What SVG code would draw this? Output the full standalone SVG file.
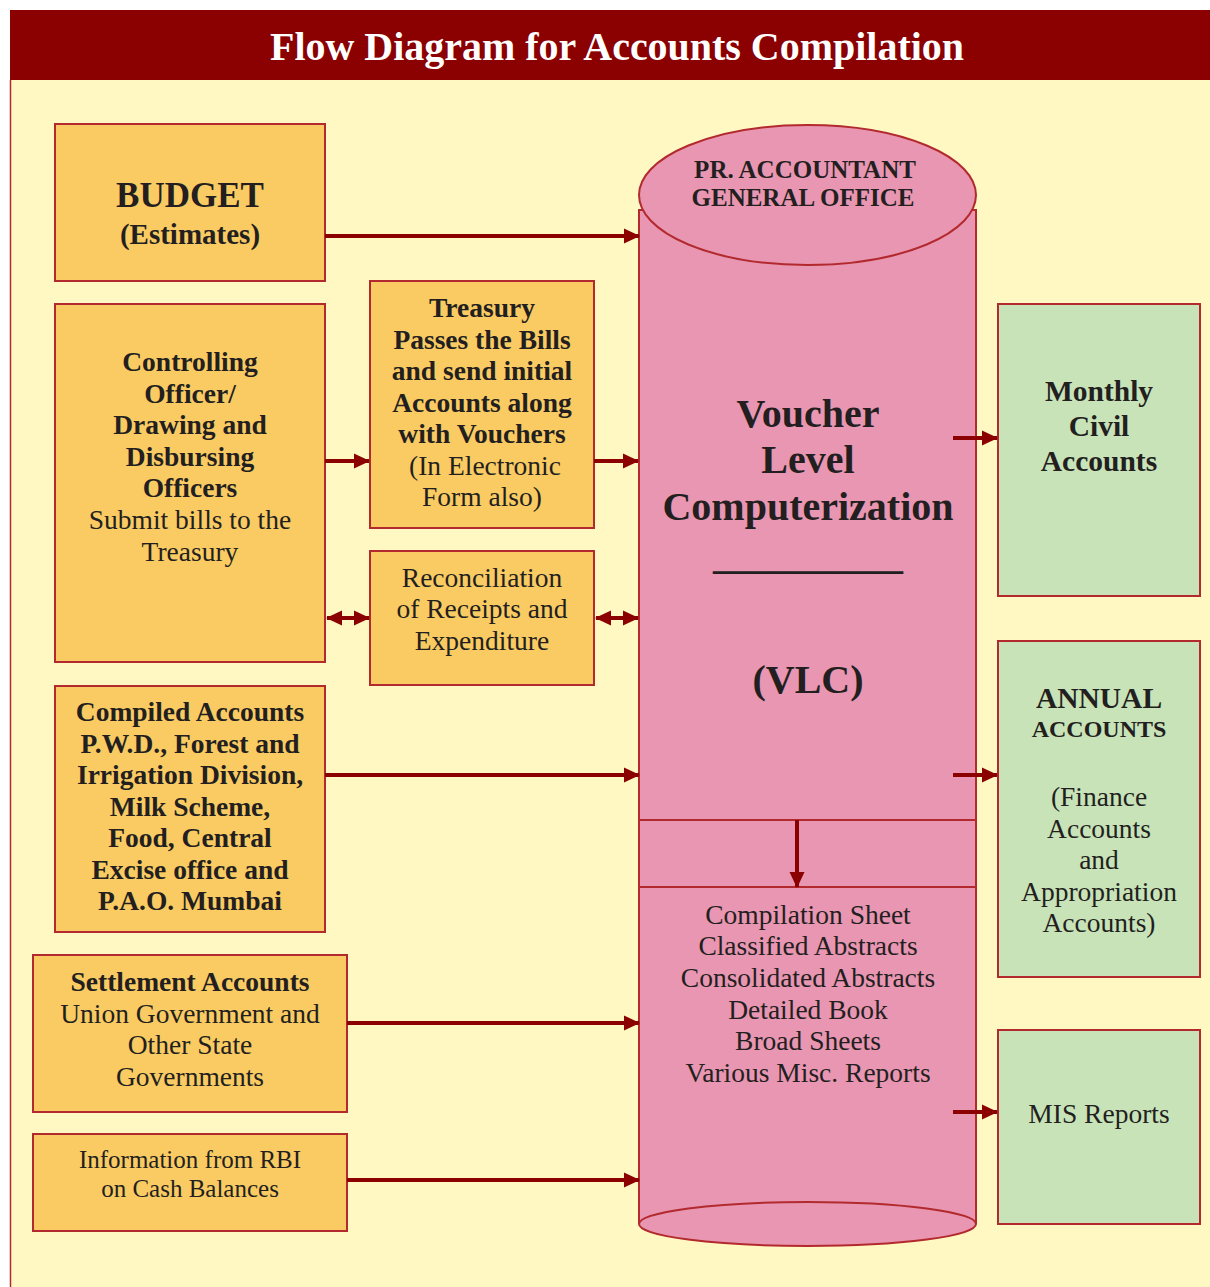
<svg xmlns="http://www.w3.org/2000/svg" width="1210" height="1287" viewBox="0 0 1210 1287">
<defs>
<marker id="ah" markerUnits="userSpaceOnUse" markerWidth="16" markerHeight="16" viewBox="0 0 16 16" refX="15" refY="8" orient="auto">
<path d="M0,0.5 L16,8 L0,15.5 Z" fill="#8B0000"/>
</marker>
<marker id="as" markerUnits="userSpaceOnUse" markerWidth="16" markerHeight="16" viewBox="0 0 16 16" refX="1" refY="8" orient="auto">
<path d="M16,0.5 L0,8 L16,15.5 Z" fill="#8B0000"/>
</marker>
</defs>
<style>
.box{fill:#FACB62;stroke:#B22A2E;stroke-width:2}
.gbox{fill:#C8E3B8;stroke:#B22A2E;stroke-width:2}
.cyl{fill:#E996B2;stroke:#B22A2E;stroke-width:2}
.t{font-family:"Liberation Serif","Times New Roman",serif;fill:#231F20;text-anchor:middle}
.b{font-weight:bold}
.con{stroke:#8B0000;stroke-width:4;fill:none}
</style>
<rect x="10" y="80" width="1200" height="1207" fill="#FFF8C3"/>
<line x1="10.5" y1="80" x2="10.5" y2="1287" stroke="#B22A2E" stroke-width="1.5"/>
<rect x="10" y="10" width="1200" height="70" fill="#8B0000"/>
<text x="617" y="60" font-family="Liberation Serif,serif" font-weight="bold" font-size="40" fill="#FFFFFF" text-anchor="middle" textLength="694" lengthAdjust="spacingAndGlyphs">Flow Diagram for Accounts Compilation</text>

<g id="cylinder" font-size="27.5">
<path class="cyl" d="M639,210 L639,1224 A168.5,22 0 0 0 976,1224 L976,210 Z"/>
<ellipse class="cyl" cx="807.5" cy="195" rx="168.5" ry="70"/>
<line x1="639" y1="820" x2="976" y2="820" stroke="#B22A2E" stroke-width="2"/>
<line x1="639" y1="887" x2="976" y2="887" stroke="#B22A2E" stroke-width="2"/>
<path d="M639,1224 A168.5,22 0 0 1 976,1224" fill="none" stroke="#B22A2E" stroke-width="2"/>
<text class="t b" x="805" y="178" font-size="25">PR. ACCOUNTANT</text>
<text class="t b" x="803" y="206" font-size="25">GENERAL OFFICE</text>
<text class="t b" x="808" y="427" font-size="40">Voucher</text>
<text class="t b" x="808" y="473" font-size="40">Level</text>
<text class="t b" x="808" y="520" font-size="40">Computerization</text>
<text class="t b" x="808" y="569" font-size="38">__________</text>
<text class="t b" x="808" y="693" font-size="40">(VLC)</text>
<text class="t" x="808" y="924">Compilation Sheet</text>
<text class="t" x="808" y="955">Classified Abstracts</text>
<text class="t" x="808" y="987">Consolidated Abstracts</text>
<text class="t" x="808" y="1019">Detailed Book</text>
<text class="t" x="808" y="1050">Broad Sheets</text>
<text class="t" x="808" y="1082">Various Misc. Reports</text>
</g>

<g id="budget">
<rect class="box" x="55" y="124" width="270" height="157"/>
<text class="t b" x="190" y="207" font-size="35">BUDGET</text>
<text class="t b" x="190" y="244" font-size="29">(Estimates)</text>
</g>

<g id="controlling" font-size="27.5">
<rect class="box" x="55" y="304" width="270" height="358"/>
<text class="t b" x="190" y="371">Controlling</text>
<text class="t b" x="190" y="403">Officer/</text>
<text class="t b" x="190" y="434">Drawing and</text>
<text class="t b" x="190" y="466">Disbursing</text>
<text class="t b" x="190" y="497">Officers</text>
<text class="t" x="190" y="529">Submit bills to the</text>
<text class="t" x="190" y="561">Treasury</text>
</g>

<g id="treasury" font-size="27.5">
<rect class="box" x="370" y="281" width="224" height="247"/>
<text class="t b" x="482" y="317">Treasury</text>
<text class="t b" x="482" y="349">Passes the Bills</text>
<text class="t b" x="482" y="380">and send initial</text>
<text class="t b" x="482" y="412">Accounts along</text>
<text class="t b" x="482" y="443">with Vouchers</text>
<text class="t" x="485" y="475">(In Electronic</text>
<text class="t" x="482" y="506">Form also)</text>
</g>

<g id="reconciliation" font-size="27.5">
<rect class="box" x="370" y="551" width="224" height="134"/>
<text class="t" x="482" y="587">Reconciliation</text>
<text class="t" x="482" y="618">of Receipts and</text>
<text class="t" x="482" y="650">Expenditure</text>
</g>

<g id="compiled" font-size="27.5">
<rect class="box" x="55" y="686" width="270" height="246"/>
<text class="t b" x="190" y="721">Compiled Accounts</text>
<text class="t b" x="190" y="753">P.W.D., Forest and</text>
<text class="t b" x="190" y="784">Irrigation Division,</text>
<text class="t b" x="190" y="816">Milk Scheme,</text>
<text class="t b" x="190" y="847">Food, Central</text>
<text class="t b" x="190" y="879">Excise office and</text>
<text class="t b" x="190" y="910">P.A.O. Mumbai</text>
</g>

<g id="settlement" font-size="27.5">
<rect class="box" x="33" y="955" width="314" height="157"/>
<text class="t b" x="190" y="991">Settlement Accounts</text>
<text class="t" x="190" y="1023">Union Government and</text>
<text class="t" x="190" y="1054">Other State</text>
<text class="t" x="190" y="1086">Governments</text>
</g>

<g id="rbi" font-size="25">
<rect class="box" x="33" y="1134" width="314" height="97"/>
<text class="t" x="190" y="1168">Information from RBI</text>
<text class="t" x="190" y="1197">on Cash Balances</text>
</g>

<g id="monthly" font-size="29.5">
<rect class="gbox" x="998" y="304" width="202" height="292"/>
<text class="t b" x="1099" y="401">Monthly</text>
<text class="t b" x="1099" y="436">Civil</text>
<text class="t b" x="1099" y="471">Accounts</text>
</g>

<g id="annual" font-size="27.5">
<rect class="gbox" x="998" y="641" width="202" height="336"/>
<text class="t b" x="1099" y="708" font-size="29.5">ANNUAL</text>
<text class="t b" x="1099" y="737" font-size="24">ACCOUNTS</text>
<text class="t" x="1099" y="806">(Finance</text>
<text class="t" x="1099" y="838">Accounts</text>
<text class="t" x="1099" y="869">and</text>
<text class="t" x="1099" y="901">Appropriation</text>
<text class="t" x="1099" y="932">Accounts)</text>
</g>

<g id="mis" font-size="27.5">
<rect class="gbox" x="998" y="1030" width="202" height="194"/>
<text class="t" x="1099" y="1123">MIS Reports</text>
</g>

<g id="connectors">
<line class="con" x1="325" y1="236" x2="639" y2="236" marker-end="url(#ah)"/>
<line class="con" x1="325" y1="461" x2="369" y2="461" marker-end="url(#ah)"/>
<line class="con" x1="594" y1="461" x2="638" y2="461" marker-end="url(#ah)"/>
<line class="con" x1="327" y1="618" x2="369" y2="618" marker-start="url(#as)" marker-end="url(#ah)"/>
<line class="con" x1="596" y1="618" x2="638" y2="618" marker-start="url(#as)" marker-end="url(#ah)"/>
<line class="con" x1="325" y1="775" x2="639" y2="775" marker-end="url(#ah)"/>
<line class="con" x1="347" y1="1023" x2="639" y2="1023" marker-end="url(#ah)"/>
<line class="con" x1="347" y1="1180" x2="639" y2="1180" marker-end="url(#ah)"/>
<line class="con" x1="953" y1="438" x2="997" y2="438" marker-end="url(#ah)"/>
<line class="con" x1="953" y1="775" x2="997" y2="775" marker-end="url(#ah)"/>
<line class="con" x1="953" y1="1112" x2="997" y2="1112" marker-end="url(#ah)"/>
<line class="con" x1="797" y1="820" x2="797" y2="887" marker-end="url(#ah)"/>
</g>
</svg>
